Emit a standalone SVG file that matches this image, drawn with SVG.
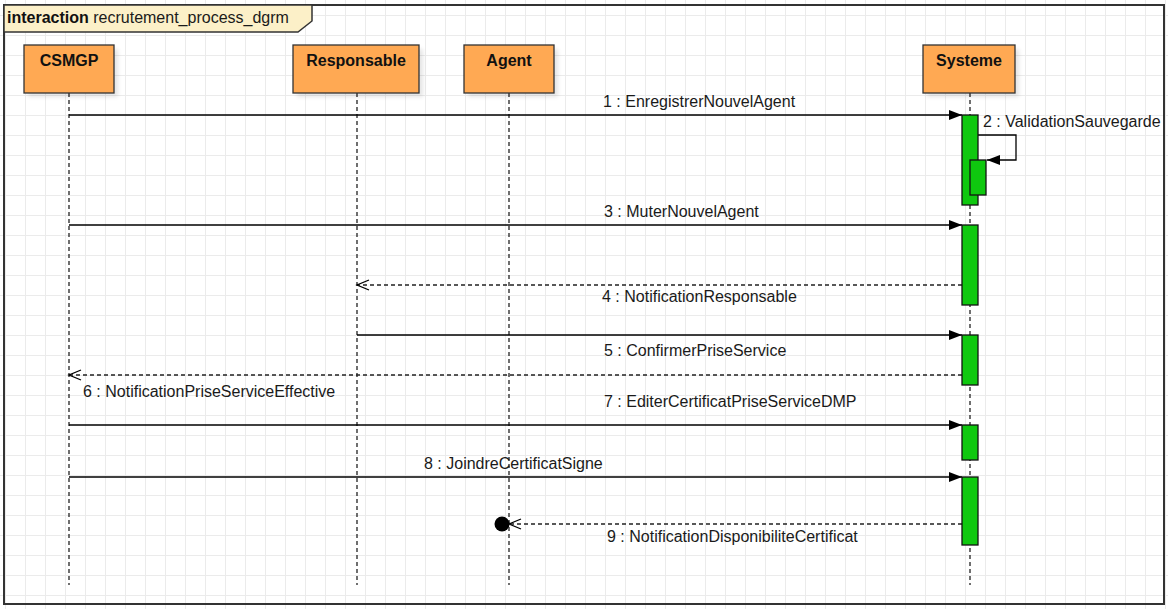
<svg xmlns="http://www.w3.org/2000/svg" width="1168" height="609" viewBox="0 0 1168 609">
  <style>
    .lbl { font-family: "Liberation Sans", Arial, sans-serif; font-size: 16px; fill: #1a1a1a; }
    .name { font-family: "Liberation Sans", Arial, sans-serif; font-size: 16px; font-weight: bold; fill: #111; text-anchor: middle; }
    .actor { fill: #ffa953; stroke: #333; stroke-width: 1.3; }
    .shadow { fill: #000; opacity: 0.10; filter: url(#soft); }
    .life { stroke: #222; stroke-width: 1.3; stroke-dasharray: 4 3; fill: none; }
    .call { stroke: #000; stroke-width: 1.3; fill: none; marker-end: url(#block); }
    .reply { stroke: #222; stroke-width: 1.3; stroke-dasharray: 4 3; fill: none; marker-end: url(#open); }
    .act { fill: #0fc80f; stroke: #111; stroke-width: 1.3; }
  </style>
  <defs>
    <pattern id="grid" width="20" height="20" patternUnits="userSpaceOnUse">
      <rect x="5" y="0" width="1" height="20" fill="#ebebeb"/>
      <rect x="0" y="15" width="20" height="1" fill="#ebebeb"/>
    </pattern>
    <filter id="soft" x="-20%" y="-20%" width="140%" height="140%">
      <feGaussianBlur stdDeviation="2"/>
    </filter>
    <marker id="block" markerUnits="userSpaceOnUse" markerWidth="14" markerHeight="12" refX="13" refY="5" orient="auto">
      <path d="M0,0 L13,5 L0,10 z" fill="#000"/>
    </marker>
    <marker id="open" markerUnits="userSpaceOnUse" markerWidth="15" markerHeight="14" refX="13" refY="6" orient="auto">
      <path d="M1,1 L13,6 L1,11" fill="none" stroke="#000" stroke-width="1.3"/>
    </marker>
  </defs>

  <!-- background and grid -->
  <rect width="1168" height="609" fill="#fff"/>
  <rect width="1168" height="609" fill="url(#grid)"/>

  <!-- interaction frame -->
  <g id="frame">
    <rect x="4" y="5" width="1160" height="599" fill="none" stroke="#333" stroke-width="2"/>
    <path d="M4,5 L312,5 L312,21 L298,32 L4,32 z" fill="#fcf0c8" stroke="#333" stroke-width="1.5"/>
    <text x="7" y="23" class="lbl" fill="#111"><tspan font-weight="bold" fill="#111">interaction</tspan> recrutement_process_dgrm</text>
  </g>

  <!-- lifelines -->
  <g id="lifelines">
    <line class="life" x1="69" y1="93" x2="69" y2="585"/>
    <line class="life" x1="357" y1="93" x2="357" y2="585"/>
    <line class="life" x1="509" y1="93" x2="509" y2="585"/>
    <line class="life" x1="970" y1="93" x2="970" y2="585"/>
  </g>

  <!-- participants -->
  <g id="csmgp">
    <rect class="shadow" x="28" y="49" width="90" height="48"/>
    <rect class="actor" x="24" y="45" width="90" height="48"/>
    <text class="name" x="69" y="66">CSMGP</text>
  </g>
  <g id="responsable">
    <rect class="shadow" x="297" y="49" width="126" height="48"/>
    <rect class="actor" x="293" y="45" width="126" height="48"/>
    <text class="name" x="356" y="66">Responsable</text>
  </g>
  <g id="agent">
    <rect class="shadow" x="468" y="49" width="90" height="48"/>
    <rect class="actor" x="464" y="45" width="90" height="48"/>
    <text class="name" x="509" y="66">Agent</text>
  </g>
  <g id="systeme">
    <rect class="shadow" x="927" y="49" width="92" height="48"/>
    <rect class="actor" x="923" y="45" width="92" height="48"/>
    <text class="name" x="969" y="66">Systeme</text>
  </g>

  <!-- messages -->
  <g id="connectors">
    <line class="call" x1="69" y1="115" x2="962" y2="115"/>
    <polyline class="call" points="978,135 1016,135 1016,160 987,160"/>
    <line class="call" x1="69" y1="225" x2="962" y2="225"/>
    <line class="reply" x1="962" y1="285" x2="357" y2="285"/>
    <line class="call" x1="357" y1="335" x2="962" y2="335"/>
    <line class="reply" x1="962" y1="375" x2="69" y2="375"/>
    <line class="call" x1="69" y1="425" x2="962" y2="425"/>
    <line class="call" x1="69" y1="477" x2="962" y2="477"/>
    <line class="reply" x1="962" y1="524" x2="509" y2="524"/>
    <circle cx="502" cy="524" r="7.5" fill="#000"/>
  </g>

  <!-- activations on Systeme -->
  <g id="activations">
    <rect class="act" x="962" y="115" width="16" height="90"/>
    <rect class="act" x="970" y="160" width="16" height="35"/>
    <rect class="act" x="962" y="225" width="16" height="80"/>
    <rect class="act" x="962" y="335" width="16" height="50"/>
    <rect class="act" x="962" y="425" width="16" height="35"/>
    <rect class="act" x="962" y="477" width="16" height="68"/>
  </g>

  <!-- message labels -->
  <g id="labels">
    <text class="lbl" x="603" y="107">1 : EnregistrerNouvelAgent</text>
    <text class="lbl" x="983" y="127">2 : ValidationSauvegarde</text>
    <text class="lbl" x="604" y="217">3 : MuterNouvelAgent</text>
    <text class="lbl" x="602" y="302">4 : NotificationResponsable</text>
    <text class="lbl" x="604" y="356">5 : ConfirmerPriseService</text>
    <text class="lbl" x="83" y="397">6 : NotificationPriseServiceEffective</text>
    <text class="lbl" x="604" y="407">7 : EditerCertificatPriseServiceDMP</text>
    <text class="lbl" x="424" y="469">8 : JoindreCertificatSigne</text>
    <text class="lbl" x="607" y="542">9 : NotificationDisponibiliteCertificat</text>
  </g>
</svg>
